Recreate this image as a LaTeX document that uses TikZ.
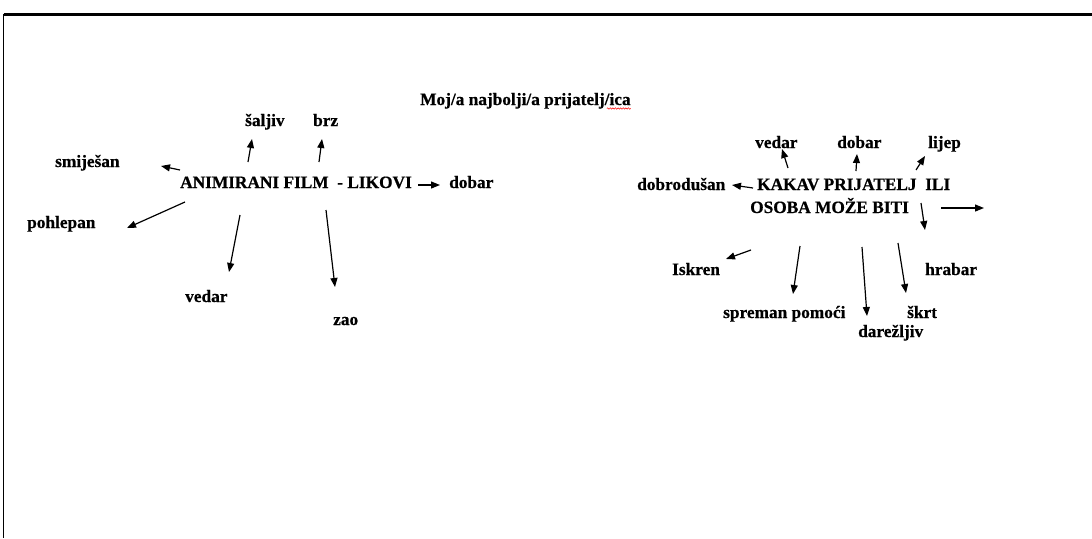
\documentclass[tikz,border=0pt]{standalone}
\usepackage{fontspec}
\setmainfont{Liberation Serif}[BoldFeatures={FakeBold=0.6}]
\usetikzlibrary{arrows.meta,decorations.pathmorphing}
\tikzset{
  lbl/.style={anchor=base west,inner sep=0pt,font=\fontsize{17.3}{20}\selectfont\bfseries},
  arr/.style={line width=1.2pt,-{Triangle[length=9pt,width=7pt]}}
}
\begin{document}
\begin{tikzpicture}[x=1pt,y=-1pt]
\fill[white] (0,0) rectangle (1092,538);
\useasboundingbox (0,0) rectangle (1092,538);
% frame
\coordinate (ftl) at (3.5,14);
\coordinate (ftr) at (1092,14);
\coordinate (fbl) at (3.5,538);
\draw[line width=3pt] (ftl) -- (ftr);
\draw[line width=1.4pt] (ftl) -- (fbl);
% title
\node[lbl] (title) at (420,105) {Moj/a najbolji/a prijatelj/ica};
\draw[red,line width=0.5pt,decorate,decoration={snake,segment length=2.6pt,amplitude=0.7pt}]
  ([xshift=-24pt,yshift=-3.5pt]title.base east) -- ([yshift=-3.5pt]title.base east);
% left cluster
\node[lbl] (main) at (180,188) {ANIMIRANI FILM \ - LIKOVI};
\node[lbl] (saljiv) at (245,126) {šaljiv};
\node[lbl] (brz) at (313,126) {brz};
\node[lbl] (smijesan) at (55,167) {smiješan};
\node[lbl] (dobarL) at (449,188) {dobar};
\node[lbl] (pohlepan) at (27,228) {pohlepan};
\node[lbl] (vedarL) at (185,302) {vedar};
\node[lbl] (zao) at (333,325) {zao};
\coordinate (a1s) at (248,162); \coordinate (a1e) at (252,139);
\coordinate (a2s) at (319,162); \coordinate (a2e) at (322,139);
\coordinate (a3s) at (180,170); \coordinate (a3e) at (161,166);
\coordinate (a4s) at (418,185); \coordinate (a4e) at (440,185);
\coordinate (a5s) at (185,202); \coordinate (a5e) at (127,228);
\coordinate (a6s) at (240,215); \coordinate (a6e) at (229,272);
\coordinate (a7s) at (326,210); \coordinate (a7e) at (335,287);
\draw[arr] (a1s) -- (a1e);
\draw[arr] (a2s) -- (a2e);
\draw[arr] (a3s) -- (a3e);
\draw[arr] (a4s) -- (a4e);
\draw[arr] (a5s) -- (a5e);
\draw[arr] (a6s) -- (a6e);
\draw[arr] (a7s) -- (a7e);
% right cluster
\node[lbl] (kak1) at (757,190) {KAKAV PRIJATELJ \ ILI};
\node[lbl] (kak2) at (750,213) {OSOBA MOŽE BITI};
\node[lbl] (vedarR) at (755,148) {vedar};
\node[lbl] (dobarR) at (837,148) {dobar};
\node[lbl] (lijep) at (928,148) {lijep};
\node[lbl] (dobrodusan) at (637,190) {dobrodušan};
\node[lbl] (iskren) at (672,275) {Iskren};
\node[lbl] (spreman) at (723,318) {spreman pomoći};
\node[lbl] (darez) at (858,337) {darežljiv};
\node[lbl] (skrt) at (907,318) {škrt};
\node[lbl] (hrabar) at (925,275) {hrabar};
\coordinate (b1s) at (788,168); \coordinate (b1e) at (782,149);
\coordinate (b2s) at (856,171); \coordinate (b2e) at (857,154);
\coordinate (b3s) at (916,170); \coordinate (b3e) at (925,156);
\coordinate (b4s) at (753,188); \coordinate (b4e) at (732,185);
\coordinate (b5s) at (941,208); \coordinate (b5e) at (984,208);
\coordinate (b6s) at (921,203); \coordinate (b6e) at (925,230);
\coordinate (b7s) at (751,250); \coordinate (b7e) at (726,259);
\coordinate (b8s) at (800,246); \coordinate (b8e) at (793,294);
\coordinate (b9s) at (862,247); \coordinate (b9e) at (867,316);
\coordinate (b10s) at (898,243); \coordinate (b10e) at (906,293);
\draw[arr] (b1s) -- (b1e);
\draw[arr] (b2s) -- (b2e);
\draw[arr] (b3s) -- (b3e);
\draw[arr] (b4s) -- (b4e);
\draw[arr] (b5s) -- (b5e);
\draw[arr] (b6s) -- (b6e);
\draw[arr] (b7s) -- (b7e);
\draw[arr] (b8s) -- (b8e);
\draw[arr] (b9s) -- (b9e);
\draw[arr] (b10s) -- (b10e);
\end{tikzpicture}
\end{document}
